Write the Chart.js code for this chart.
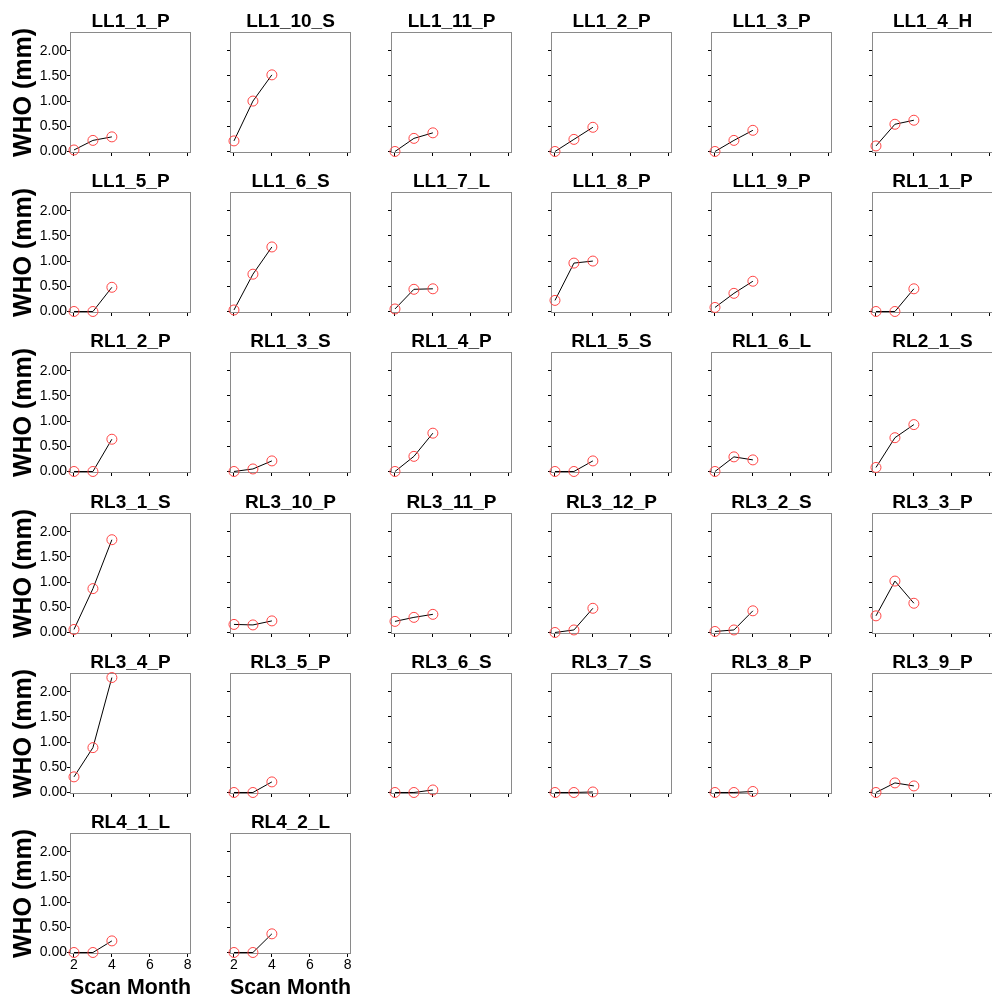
<!DOCTYPE html>
<html><head><meta charset="utf-8">
<script src="https://cdn.jsdelivr.net/npm/chart.js@4"></script>
<style>
html,body{margin:0;padding:0;background:#fff;overflow:hidden;width:992px;height:1002px;}
#wrap{position:relative;width:992px;height:1002px;overflow:hidden;background:#fff;}
canvas{position:absolute;}
</style></head><body><div id="wrap"></div>
<script>
// ---- data ----
const months = [2, 3, 4];
const xTicks = [2, 4, 6, 8];
const yTicks = [0, 0.5, 1, 1.5, 2];
const yAxisTitle = 'WHO (mm)';
const xAxisTitle = 'Scan Month';

const row1Names = ['LL1_1_P', 'LL1_10_S', 'LL1_11_P', 'LL1_2_P', 'LL1_3_P', 'LL1_4_H'];
const row1Values = [[0.03, 0.22, 0.29], [0.21, 1.00, 1.52], [0.00, 0.26, 0.37], [0.00, 0.24, 0.48], [0.00, 0.22, 0.42], [0.11, 0.54, 0.62]];

const row2Names = ['LL1_5_P', 'LL1_6_S', 'LL1_7_L', 'LL1_8_P', 'LL1_9_P', 'RL1_1_P'];
const row2Values = [[0.00, 0.00, 0.48], [0.03, 0.74, 1.28], [0.05, 0.44, 0.45], [0.22, 0.96, 1.00], [0.08, 0.36, 0.60], [0.00, 0.00, 0.45]];

const row3Names = ['RL1_2_P', 'RL1_3_S', 'RL1_4_P', 'RL1_5_S', 'RL1_6_L', 'RL2_1_S'];
const row3Values = [[0.00, 0.00, 0.64], [0.00, 0.05, 0.21], [0.00, 0.30, 0.76], [0.00, 0.00, 0.21], [0.00, 0.29, 0.23], [0.08, 0.67, 0.93]];

const row4Names = ['RL3_1_S', 'RL3_10_P', 'RL3_11_P', 'RL3_12_P', 'RL3_2_S', 'RL3_3_P'];
const row4Values = [[0.06, 0.87, 1.84], [0.16, 0.15, 0.23], [0.22, 0.30, 0.36], [0.00, 0.05, 0.48], [0.02, 0.05, 0.43], [0.33, 1.02, 0.58]];

const row5Names = ['RL3_4_P', 'RL3_5_P', 'RL3_6_S', 'RL3_7_S', 'RL3_8_P', 'RL3_9_P'];
const row5Values = [[0.31, 0.89, 2.28], [0.00, 0.00, 0.21], [0.00, 0.00, 0.05], [0.00, 0.00, 0.01], [0.00, 0.00, 0.02], [0.00, 0.19, 0.13]];

const row6Names = ['RL4_1_L', 'RL4_2_L'];
const row6Values = [[0.00, 0.00, 0.23], [0.00, 0.00, 0.37]];

const rowNames = [row1Names, row2Names, row3Names, row4Names, row5Names, row6Names];
const rowValues = [row1Values, row2Values, row3Values, row4Values, row5Values, row6Values];

// ---- layout / style ----
const FONT = "'Liberation Sans', Arial, Helvetica, sans-serif";
const COL_STEP = 160.3, ROW_STEP = 160.2;
const AXIS_W = 70, TITLE_H = 32, PLOT_W = 121, PLOT_H = 121, XAXIS_H = 47, RIGHT_PAD = 8;
const CW = AXIS_W + PLOT_W + RIGHT_PAD, CH = TITLE_H + PLOT_H + XAXIS_H;

Chart.defaults.color = '#000';
Chart.defaults.font.family = FONT;

const boxPlugin = {
  id: 'panelBox',
  beforeDatasetsDraw(chart) {
    const a = chart.chartArea, ctx = chart.ctx;
    ctx.save();
    ctx.strokeStyle = '#8a8a8a';
    ctx.lineWidth = 1;
    ctx.strokeRect(Math.round(a.left) + 0.5, Math.round(a.top) + 0.5,
                   Math.round(a.right - a.left) - 1, Math.round(a.bottom - a.top) - 1);
    ctx.restore();
  }
};

const wrap = document.getElementById('wrap');
const lastRow = rowNames.length - 1;

rowNames.forEach((names, r) => {
  names.forEach((name, c) => {
    const vals = rowValues[r][c];
    const cv = document.createElement('canvas');
    cv.width = CW; cv.height = CH;
    cv.style.width = CW + 'px'; cv.style.height = CH + 'px';
    cv.style.left = Math.round(COL_STEP * c) + 'px';
    cv.style.top = Math.round(ROW_STEP * r) + 'px';
    wrap.appendChild(cv);
    const firstCol = c === 0;
    const bottomRow = r === lastRow;

    new Chart(cv, {
      type: 'line',
      data: {
        datasets: [{
          data: months.map((m, i) => ({ x: m, y: vals[i] })),
          borderColor: '#000',
          borderWidth: 1,
          tension: 0,
          pointRadius: 5,
          pointBorderWidth: 1,
          pointBorderColor: '#ff4545',
          pointBackgroundColor: 'rgba(0,0,0,0)',
          clip: false
        }]
      },
      options: {
        responsive: false,
        animation: false,
        devicePixelRatio: 1,
        events: [],
        layout: { padding: { left: 0, right: RIGHT_PAD, top: 0, bottom: 0 } },
        plugins: {
          legend: { display: false },
          tooltip: { enabled: false },
          title: {
            display: true,
            text: name,
            fullSize: false,
            color: '#000',
            font: { family: FONT, size: 19, weight: 'bold', lineHeight: 1 },
            padding: { top: 12.25, bottom: 0.75 }
          }
        },
        scales: {
          x: {
            type: 'linear',
            min: 1.79, max: 8.175,
            afterBuildTicks: s => { s.ticks = xTicks.map(v => ({ value: v })); },
            afterFit: s => { s.height = XAXIS_H; },
            border: { display: false },
            grid: { drawOnChartArea: false, drawTicks: true, tickLength: 3, tickColor: '#000', color: '#000' },
            ticks: {
              display: bottomRow,
              padding: 0,
              maxRotation: 0,
              autoSkip: false,
              color: '#000',
              font: { family: FONT, size: 14 },
              callback: v => String(v)
            },
            title: {
              display: bottomRow,
              text: xAxisTitle,
              color: '#000',
              font: { family: FONT, size: 22, weight: 'bold', lineHeight: 1 },
              padding: { top: 0, bottom: 2.5 }
            }
          },
          y: {
            type: 'linear',
            min: -0.03, max: 2.37,
            afterBuildTicks: s => { s.ticks = yTicks.map(v => ({ value: v })); },
            afterFit: s => { s.width = AXIS_W; },
            border: { display: false },
            grid: { drawOnChartArea: false, drawTicks: true, tickLength: 3, tickColor: '#000', color: '#000' },
            ticks: {
              display: firstCol,
              padding: 0,
              color: '#000',
              font: { family: FONT, size: 14 },
              callback: v => Number(v).toFixed(2)
            },
            title: {
              display: firstCol,
              text: yAxisTitle,
              color: '#000',
              font: { family: FONT, size: 25, weight: 'bold', lineHeight: 1 },
              padding: { top: 11.5, bottom: 0 }
            }
          }
        }
      },
      plugins: [boxPlugin]
    });
  });
});
</script>
</body></html>
